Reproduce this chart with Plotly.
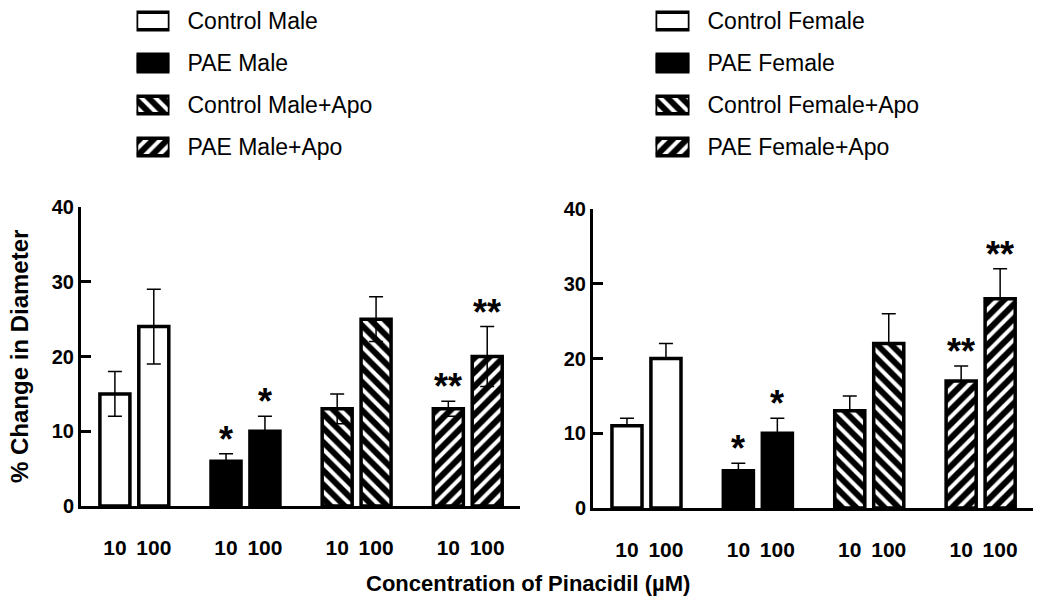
import plotly.graph_objects as go

# data
groups = ['Control', 'PAE', 'Control+Apo', 'PAE+Apo']
doses = ['10', '100']

male_mean = [[15, 24], [6, 10], [13, 25], [13, 20]]
male_err = [[3, 5], [1, 2], [2, 3], [1, 4]]
female_mean = [[11, 20], [5, 10], [13, 22], [17, 28]]
female_err = [[1, 2], [1, 2], [2, 4], [2, 4]]

male_stars = ['', '*', '', '**']
female_stars = ['', '*', '', '**']

male_legend = ['Control Male', 'PAE Male', 'Control Male+Apo', 'PAE Male+Apo']
female_legend = ['Control Female', 'PAE Female', 'Control Female+Apo', 'PAE Female+Apo']

y_ticks = [0, 10, 20, 30, 40]

# styles
FONT = 'Liberation Sans, Arial, sans-serif'
W, H = 1050, 607
OX, OY = 8, 8  # page body margin
fills = ['white', 'black', 'black', 'black']
hatches = ['', '', '\\', '/']
OFF = 0.175
BW = 0.27
LW = 3.5


def px(x):
    return (x - OX) / W


def py(y):
    return 1 - (y - OY) / H


def pattern(shape):
    return dict(shape=shape, fgcolor='white', bgcolor='black', fgopacity=1,
                size=10, solidity=0.4, fillmode='overlay')


def add_panel(fig, means, errs, stars, xa, ya, lower):
    for g in range(len(groups)):
        xs = [g - OFF, g + OFF]
        marker = dict(color=fills[g], line=dict(color='black', width=LW))
        if hatches[g]:
            marker['pattern'] = pattern(hatches[g])
        fig.add_trace(go.Bar(
            x=xs, y=means[g], width=BW, xaxis=xa, yaxis=ya, marker=marker,
            error_y=dict(type='data', symmetric=False, array=errs[g],
                         arrayminus=errs[g] if lower else [0, 0],
                         thickness=1.5, width=7, color='black'),
            showlegend=False, hoverinfo='skip'))
        if stars[g]:
            for x, m, e in zip(xs, means[g], errs[g]):
                fig.add_annotation(x=x, y=m + e, xref=xa, yref=ya, text=stars[g],
                                   showarrow=False, yanchor='bottom', yshift=-8,
                                   font=dict(size=36, family=FONT, color='black',
                                             weight='bold'))


def add_legend(fig, labels, xa, ya):
    fig.add_trace(go.Bar(
        y=labels, x=[1] * len(labels), orientation='h', width=0.42,
        xaxis=xa, yaxis=ya, cliponaxis=False, showlegend=False, hoverinfo='skip',
        marker=dict(color=fills, line=dict(color='black', width=LW),
                    pattern=pattern(hatches))))


fig = go.Figure()
add_panel(fig, male_mean, male_err, male_stars, 'x', 'y', True)
add_panel(fig, female_mean, female_err, female_stars, 'x2', 'y2', False)
add_legend(fig, male_legend, 'x3', 'y3')
add_legend(fig, female_legend, 'x4', 'y4')

tick_pos = []
tick_txt = []
for g in range(len(groups)):
    tick_pos += [g - OFF, g + OFF]
    tick_txt += doses

xcommon = dict(range=[-0.48, 3.47], showline=True, linewidth=3, linecolor='black',
               tickvals=tick_pos, ticktext=tick_txt, ticks='', showgrid=False,
               zeroline=False, ticklabelstandoff=21, automargin=False,
               tickfont=dict(family=FONT, size=21, color='black', weight='bold'))
ycommon = dict(range=[0, 40], tickvals=y_ticks, ticks='inside', ticklen=10, tickwidth=3,
               tickcolor='black', showline=True, linewidth=3, linecolor='black',
               showgrid=False, zeroline=False, automargin=False,
               tickfont=dict(family=FONT, size=20, color='black', weight='bold'))
lx = dict(range=[0, 1], visible=False, fixedrange=True, automargin=False)
# legend rows are 42 px apart, first row centred 21 px from the top
ly = dict(type='category', range=[3.5, -0.5 + OY / 42], side='right', ticks='',
          showline=False, showgrid=False, zeroline=False, ticklabelstandoff=17,
          automargin=False, tickfont=dict(family=FONT, size=23, color='black'))

fig.update_layout(
    width=W, height=H, autosize=False,
    margin=dict(l=0, r=0, t=0, b=0, pad=0, autoexpand=False),
    paper_bgcolor='white', plot_bgcolor='white',
    barmode='overlay', showlegend=False,
    font=dict(family=FONT, color='black'),
    xaxis=dict(xcommon, domain=[px(81), px(520)], anchor='y'),
    yaxis=dict(ycommon, domain=[py(506), py(207)], anchor='x'),
    xaxis2=dict(xcommon, domain=[px(593), px(1033)], anchor='y2'),
    yaxis2=dict(ycommon, domain=[py(508), py(209)], anchor='x2'),
    xaxis3=dict(lx, domain=[px(136.5), px(169.5)], anchor='y3'),
    yaxis3=dict(ly, domain=[py(168), 1], anchor='x3'),
    xaxis4=dict(lx, domain=[px(655.5), px(689.5)], anchor='y4'),
    yaxis4=dict(ly, domain=[py(168), 1], anchor='x4'),
)

fig.add_annotation(text='Concentration of Pinacidil (µM)', x=px(528), y=py(583),
                   xanchor='center', yanchor='middle',
                   xref='paper', yref='paper', showarrow=False,
                   font=dict(family=FONT, size=22, color='black', weight='bold'))
fig.add_annotation(text='% Change in Diameter', x=px(19), y=py(357), textangle=-90,
                   xanchor='center', yanchor='middle',
                   xref='paper', yref='paper', showarrow=False,
                   font=dict(family=FONT, size=24, color='black', weight='bold'))

fig.write_html('out.html')
